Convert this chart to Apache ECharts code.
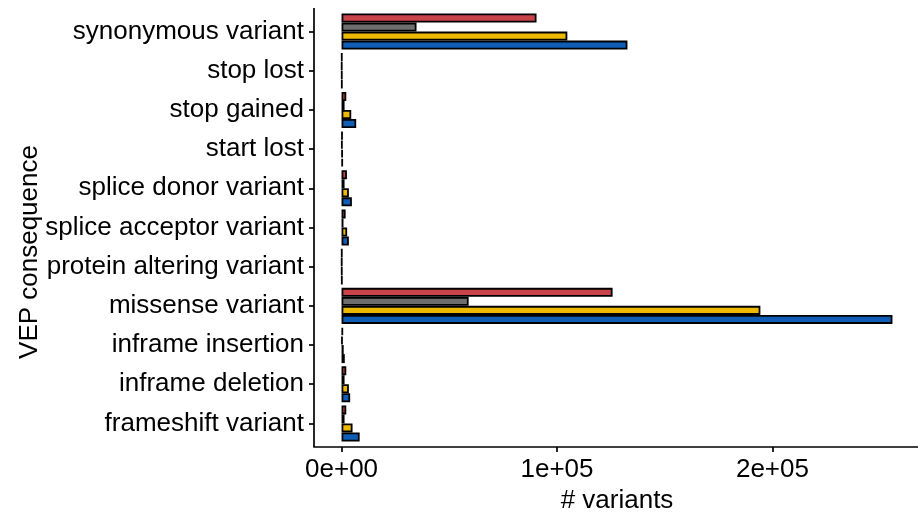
<!DOCTYPE html>
<html>
<head>
<meta charset="utf-8">
<script src="https://cdn.jsdelivr.net/npm/echarts@6/dist/echarts.min.js"></script>
<style>
  html, body { margin: 0; padding: 0; background: #fff; }
  #chart { width: 918px; height: 512px; }
</style>
</head>
<body>
<div id="chart"></div>
<script>
// VEP consequence categories, listed bottom to top
const categories = [
  'frameshift variant',
  'inframe deletion',
  'inframe insertion',
  'missense variant',
  'protein altering variant',
  'splice acceptor variant',
  'splice donor variant',
  'start lost',
  'stop gained',
  'stop lost',
  'synonymous variant'
];

// variant counts per consequence, one array per group
const redCounts    = [2200, 2200,  700, 125800, 200, 1900, 2500, 400, 2200, 200,  90500];
const grayCounts   = [1400, 1400,  400,  59000, 150,  900, 1400, 300, 1400, 150,  34800];
const yellowCounts = [5100, 3400, 1000, 194400, 200, 2600, 3400, 500, 4500, 200, 104800];
const blueCounts   = [8400, 4000, 1500, 255700, 250, 3400, 4800, 600, 6800, 250, 132700];

// x tick positions and their printed form
const xTicks = [0, 100000, 200000];
const xTickLabels = ['0e+00', '1e+05', '2e+05'];

const FONT = "'Liberation Sans', Arial, sans-serif";
const FONT_SIZE = 26;
const GRID_LEFT = 314, GRID_TOP = 12, GRID_H = 431, GRID_W = 606;
const PANEL_TOP = 8, PANEL_BOTTOM = 447;

const maxVal = Math.max(...blueCounts, ...yellowCounts, ...grayCounts, ...redCounts);

function barSeries(name, color, data) {
  return {
    name: name,
    type: 'bar',
    data: data,
    barGap: '0%',
    barCategoryGap: '8%',
    itemStyle: { color: color, borderColor: '#000', borderWidth: 1.8 },
    emphasis: { disabled: true },
    animation: false
  };
}

const chart = echarts.init(document.getElementById('chart'), null, { renderer: 'canvas' });
chart.setOption({
  backgroundColor: '#fff',
  animation: false,
  grid: {
    left: GRID_LEFT, top: GRID_TOP, width: GRID_W, height: GRID_H,
    containLabel: false,
    outerBoundsMode: 'none'
  },
  xAxis: {
    type: 'value',
    min: -0.05 * maxVal,
    max: 1.05 * maxVal,
    offset: PANEL_BOTTOM - (GRID_TOP + GRID_H),
    name: '# variants',
    nameLocation: 'middle',
    nameGap: 40,
    nameTextStyle: { fontFamily: FONT, fontSize: FONT_SIZE, color: '#000' },
    splitLine: { show: false },
    axisLine: { show: true, onZero: false, lineStyle: { color: '#000', width: 1.7 } },
    axisTick: { show: true, customValues: xTicks, length: 5, lineStyle: { color: '#000', width: 1.7 } },
    axisLabel: {
      customValues: xTicks,
      margin: 10,
      fontFamily: FONT, fontSize: FONT_SIZE, color: '#000',
      formatter: function (v) {
        const i = xTicks.indexOf(v);
        return i >= 0 ? xTickLabels[i] : '';
      }
    }
  },
  yAxis: {
    type: 'category',
    data: categories,
    axisLine: { show: false, onZero: false },
    axisTick: { show: true, alignWithLabel: true, length: 5, lineStyle: { color: '#000', width: 1.7 } },
    axisLabel: { margin: 10, fontFamily: FONT, fontSize: FONT_SIZE, color: '#000' },
    splitLine: { show: false }
  },
  graphic: [{
    type: 'line',
    shape: { x1: GRID_LEFT, y1: PANEL_TOP, x2: GRID_LEFT, y2: PANEL_BOTTOM },
    style: { stroke: '#000', lineWidth: 1.7 },
    silent: true
  }, {
    type: 'text',
    x: 30,
    y: 252,
    rotation: Math.PI / 2,
    style: {
      text: 'VEP consequence',
      font: FONT_SIZE + 'px ' + FONT,
      fill: '#000',
      textAlign: 'center',
      textVerticalAlign: 'middle'
    },
    silent: true
  }],
  series: [
    barSeries('red group', '#C8434A', redCounts),
    barSeries('gray group', '#6E6E6E', grayCounts),
    barSeries('yellow group', '#EDB800', yellowCounts),
    barSeries('blue group', '#0F5DB5', blueCounts)
  ]
});
</script>
</body>
</html>
